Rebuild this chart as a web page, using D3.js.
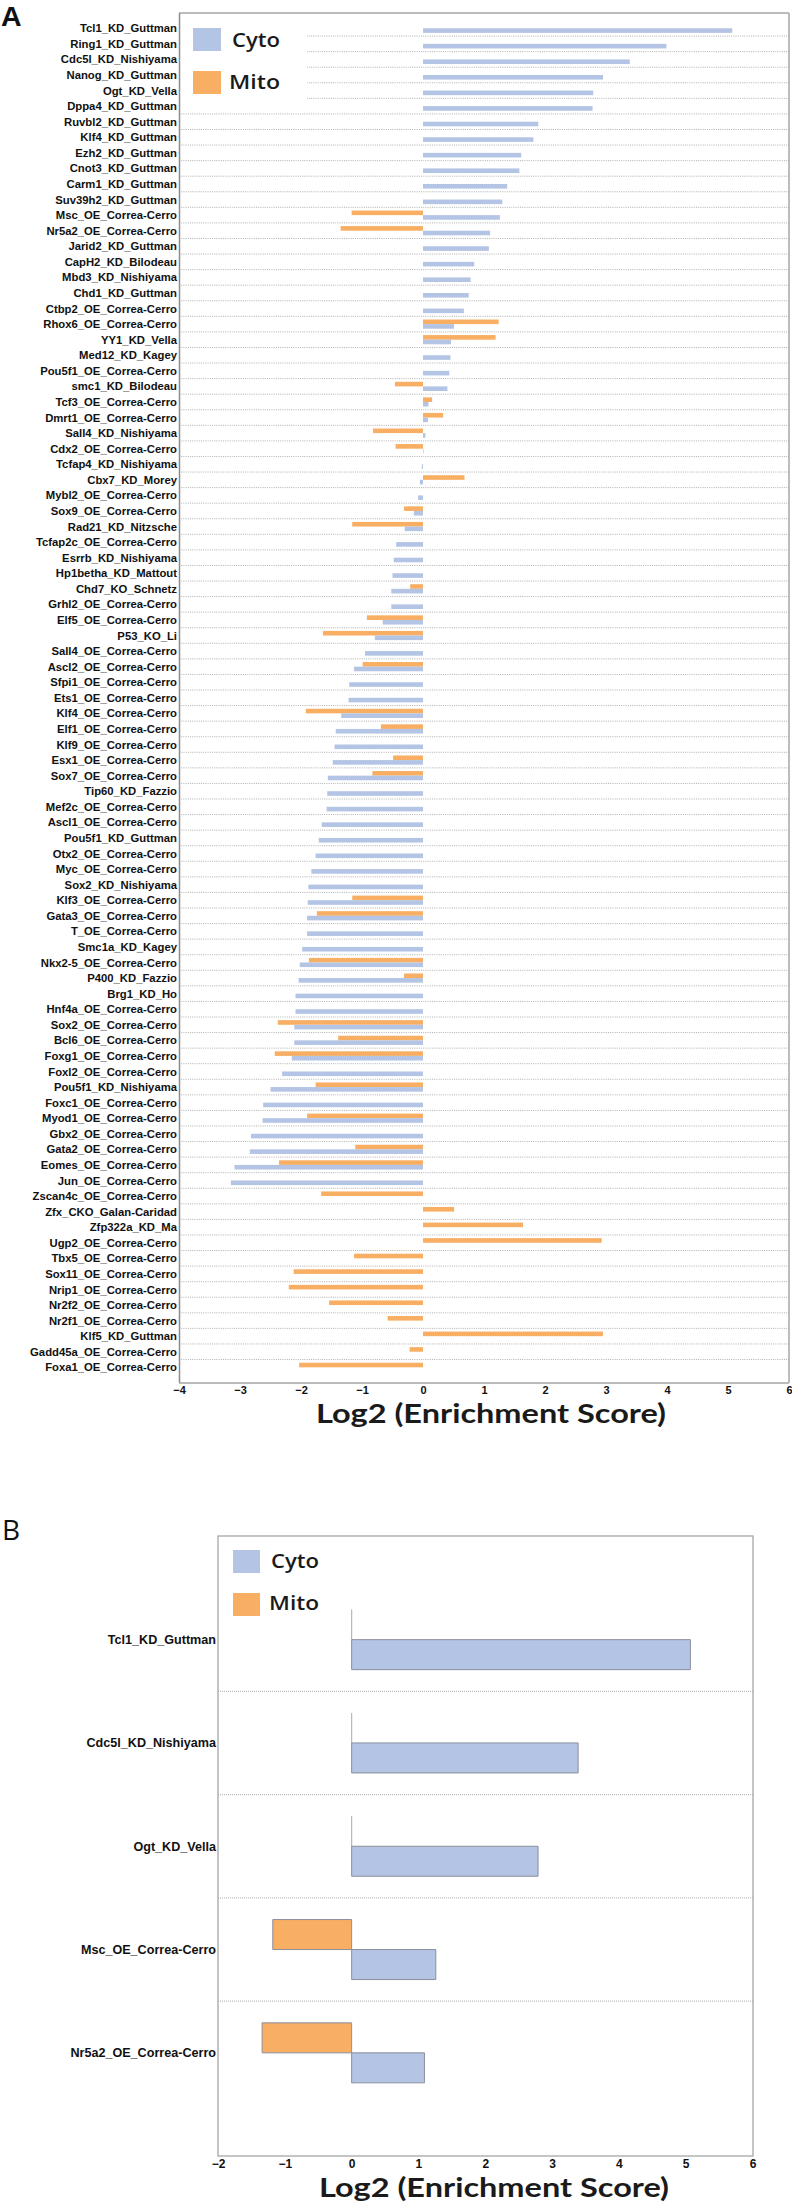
<!DOCTYPE html>
<html><head><meta charset="utf-8">
<script src="https://cdn.jsdelivr.net/npm/d3@7/dist/d3.min.js"></script>
<style>body{margin:0;background:#fff}</style>
</head><body>
<svg id="c" width="792" height="2203"></svg>
<script>
// ---------------- DATA ----------------
const categoriesA = ["Tcl1_KD_Guttman","Ring1_KD_Guttman","Cdc5l_KD_Nishiyama","Nanog_KD_Guttman","Ogt_KD_Vella","Dppa4_KD_Guttman","Ruvbl2_KD_Guttman","Klf4_KD_Guttman","Ezh2_KD_Guttman","Cnot3_KD_Guttman","Carm1_KD_Guttman","Suv39h2_KD_Guttman","Msc_OE_Correa-Cerro","Nr5a2_OE_Correa-Cerro","Jarid2_KD_Guttman","CapH2_KD_Bilodeau","Mbd3_KD_Nishiyama","Chd1_KD_Guttman","Ctbp2_OE_Correa-Cerro","Rhox6_OE_Correa-Cerro","YY1_KD_Vella","Med12_KD_Kagey","Pou5f1_OE_Correa-Cerro","smc1_KD_Bilodeau","Tcf3_OE_Correa-Cerro","Dmrt1_OE_Correa-Cerro","Sall4_KD_Nishiyama","Cdx2_OE_Correa-Cerro","Tcfap4_KD_Nishiyama","Cbx7_KD_Morey","Mybl2_OE_Correa-Cerro","Sox9_OE_Correa-Cerro","Rad21_KD_Nitzsche","Tcfap2c_OE_Correa-Cerro","Esrrb_KD_Nishiyama","Hp1betha_KD_Mattout","Chd7_KO_Schnetz","Grhl2_OE_Correa-Cerro","Elf5_OE_Correa-Cerro","P53_KO_Li","Sall4_OE_Correa-Cerro","Ascl2_OE_Correa-Cerro","Sfpi1_OE_Correa-Cerro","Ets1_OE_Correa-Cerro","Klf4_OE_Correa-Cerro","Elf1_OE_Correa-Cerro","Klf9_OE_Correa-Cerro","Esx1_OE_Correa-Cerro","Sox7_OE_Correa-Cerro","Tip60_KD_Fazzio","Mef2c_OE_Correa-Cerro","Ascl1_OE_Correa-Cerro","Pou5f1_KD_Guttman","Otx2_OE_Correa-Cerro","Myc_OE_Correa-Cerro","Sox2_KD_Nishiyama","Klf3_OE_Correa-Cerro","Gata3_OE_Correa-Cerro","T_OE_Correa-Cerro","Smc1a_KD_Kagey","Nkx2-5_OE_Correa-Cerro","P400_KD_Fazzio","Brg1_KD_Ho","Hnf4a_OE_Correa-Cerro","Sox2_OE_Correa-Cerro","Bcl6_OE_Correa-Cerro","Foxg1_OE_Correa-Cerro","Foxl2_OE_Correa-Cerro","Pou5f1_KD_Nishiyama","Foxc1_OE_Correa-Cerro","Myod1_OE_Correa-Cerro","Gbx2_OE_Correa-Cerro","Gata2_OE_Correa-Cerro","Eomes_OE_Correa-Cerro","Jun_OE_Correa-Cerro","Zscan4c_OE_Correa-Cerro","Zfx_CKO_Galan-Caridad","Zfp322a_KD_Ma","Ugp2_OE_Correa-Cerro","Tbx5_OE_Correa-Cerro","Sox11_OE_Correa-Cerro","Nrip1_OE_Correa-Cerro","Nr2f2_OE_Correa-Cerro","Nr2f1_OE_Correa-Cerro","Klf5_KD_Guttman","Gadd45a_OE_Correa-Cerro","Foxa1_OE_Correa-Cerro"];

const cytoA = [5.07,3.99,3.39,2.95,2.79,2.78,1.89,1.81,1.61,1.58,1.38,1.30,1.26,1.10,1.08,0.84,0.78,0.75,0.67,0.51,0.46,0.45,0.43,0.40,0.09,0.08,0.04,0.01,-0.02,-0.05,-0.08,-0.15,-0.30,-0.44,-0.48,-0.50,-0.52,-0.52,-0.66,-0.79,-0.95,-1.13,-1.21,-1.22,-1.34,-1.43,-1.45,-1.48,-1.56,-1.57,-1.58,-1.66,-1.71,-1.76,-1.83,-1.88,-1.89,-1.90,-1.90,-1.98,-2.02,-2.04,-2.09,-2.09,-2.11,-2.11,-2.15,-2.31,-2.50,-2.62,-2.63,-2.82,-2.84,-3.09,-3.15,null,null,null,null,null,null,null,null,null,null,null,null];

const mitoA = [null,null,null,null,null,null,null,null,null,null,null,null,-1.17,-1.35,null,null,null,null,null,1.24,1.19,null,null,-0.46,0.15,0.33,-0.82,-0.45,null,0.68,null,-0.31,-1.16,null,null,null,-0.21,null,-0.92,-1.64,null,-0.99,null,null,-1.92,-0.69,null,-0.49,-0.83,null,null,null,null,null,null,null,-1.16,-1.74,null,null,-1.87,-0.31,null,null,-2.38,-1.39,-2.43,null,-1.76,null,-1.90,null,-1.11,-2.36,null,-1.67,0.51,1.64,2.93,-1.13,-2.12,-2.20,-1.54,-0.58,2.95,-0.22,-2.03];

const ticksA = [-4,-3,-2,-1,0,1,2,3,4,5,6];

const categoriesB = ["Tcl1_KD_Guttman","Cdc5l_KD_Nishiyama","Ogt_KD_Vella","Msc_OE_Correa-Cerro","Nr5a2_OE_Correa-Cerro"];
const cytoB = [5.07,3.39,2.79,1.26,1.09];
const mitoB = [0,0,0,-1.18,-1.34];
const ticksB = [-2,-1,0,1,2,3,4,5,6];

const seriesNames = ["Cyto","Mito"];
const axisTitle = "Log2 (Enrichment Score)";

// ---------------- STYLE ----------------
const fill = {Cyto:"#b4c4e4", Mito:"#f8ae63"};
const labFont = "'Liberation Sans', Arial, sans-serif";
const narrowFont = "'Liberation Sans Narrow','Arial Narrow','Liberation Sans',Arial,sans-serif";
const legFont = "'Open Sans', Lato, sans-serif";
const titleFont = "Lato, 'Open Sans', sans-serif";

const svg = d3.select("#c");

// =============== PANEL A ===============
const A = {left:179, right:789, top:13, bottom:1383};
const xA = d3.scaleLinear().domain([-4,6]).range([A.left, A.right]);
const yA = d3.scaleBand().domain(categoriesA).range([20.5, 1375.1]);
const bwA = yA.bandwidth();
const subA = d3.scaleBand().domain(["Mito","Cyto"]).range([bwA/2-4.6, bwA/2+4.6]);

const gA = svg.append("g");
gA.append("g").selectAll("line").data(categoriesA.slice(0,-1)).join("line")
  .attr("x1", A.left).attr("x2", A.right)
  .attr("y1", d => yA(d)+bwA).attr("y2", d => yA(d)+bwA)
  .attr("stroke","#a8a8a8").attr("stroke-width",0.9).attr("stroke-dasharray","1,1.2");

gA.append("rect").attr("x",A.left+1).attr("y",A.top+1).attr("width",127).attr("height",91).attr("fill","#fff");

const barsA = [];
categoriesA.forEach((c,i) => {
  if (mitoA[i] !== null) barsA.push({c, s:"Mito", v:mitoA[i]});
  if (cytoA[i] !== null) barsA.push({c, s:"Cyto", v:cytoA[i]});
});
gA.append("g").selectAll("rect").data(barsA).join("rect")
  .attr("x", d => xA(Math.min(0,d.v)))
  .attr("width", d => Math.abs(xA(d.v)-xA(0)))
  .attr("y", d => yA(d.c)+subA(d.s))
  .attr("height", subA.bandwidth())
  .attr("fill", d => fill[d.s]);

gA.append("line").attr("x1",A.left).attr("x2",A.right).attr("y1",A.top).attr("y2",A.top).attr("stroke","#a6a6a6").attr("stroke-width",1.5);
gA.append("line").attr("x1",A.right).attr("x2",A.right).attr("y1",A.top).attr("y2",A.bottom).attr("stroke","#a6a6a6").attr("stroke-width",1.5);
gA.append("line").attr("x1",A.left+0.5).attr("x2",A.left+0.5).attr("y1",A.top).attr("y2",A.bottom).attr("stroke","#8c8c8c").attr("stroke-width",1.5);
gA.append("line").attr("x1",A.left).attr("x2",A.right).attr("y1",A.bottom).attr("y2",A.bottom).attr("stroke","#a6a6a6").attr("stroke-width",1.5);

gA.append("g").selectAll("text").data(categoriesA).join("text")
  .attr("x", 177).attr("y", d => yA(d)+bwA/2).attr("dy","0.36em")
  .attr("text-anchor","end").attr("font-family",labFont).attr("font-weight","bold")
  .attr("font-size",11.3).attr("fill","#111").text(d => d);

const axA = gA.append("g").attr("transform",`translate(0,${A.bottom})`)
  .call(d3.axisBottom(xA).tickValues(ticksA).tickSize(0).tickFormat(d3.format("d")));
axA.select(".domain").remove();
axA.selectAll("text").attr("y",7).attr("dy","0.36em").attr("font-family",narrowFont)
  .attr("font-weight","bold").attr("font-size",11).attr("fill","#111").style("font-stretch","condensed");

gA.append("text").attr("x",491).attr("y",1423).attr("text-anchor","middle")
  .attr("font-family",titleFont).attr("font-weight","bold").attr("font-size",26)
  .attr("textLength",350).attr("lengthAdjust","spacingAndGlyphs").attr("fill","#1a1a1a").text(axisTitle);

const legA = gA.append("g");
seriesNames.forEach((s,i) => {
  legA.append("rect").attr("x",193).attr("y",28+i*43).attr("width",28).attr("height",23).attr("fill",fill[s]);
  legA.append("text").attr("x", s==="Cyto"?232:229).attr("y",46.5+i*42).attr("font-family",legFont)
    .attr("font-weight",600).attr("font-size",20).attr("textLength", s==="Cyto"?48:51)
    .attr("lengthAdjust","spacingAndGlyphs").attr("fill","#1a1a1a").text(s);
});

svg.append("text").attr("x",1).attr("y",26).attr("font-family",labFont).attr("font-weight","bold")
  .attr("font-size",28.5).attr("fill","#111").text("A");

// =============== PANEL B ===============
const B = {left:218, right:753, top:1536, bottom:2156};
const xB = d3.scaleLinear().domain([-2,6]).range([B.left, 752.5]);
const yB = d3.scaleBand().domain(categoriesB).range([1588, 2104.5]);
const bwB = yB.bandwidth();
const subB = d3.scaleBand().domain(["Mito","Cyto"]).range([bwB/2-30, bwB/2+30]);

const gB = svg.append("g");
gB.append("g").selectAll("line").data(categoriesB.slice(0,-1)).join("line")
  .attr("x1", B.left).attr("x2", B.right)
  .attr("y1", d => yB(d)+bwB).attr("y2", d => yB(d)+bwB)
  .attr("stroke","#bdbdbd").attr("stroke-width",1.2).attr("stroke-dasharray","1,1");

const barsB = [];
categoriesB.forEach((c,i) => {
  barsB.push({c, s:"Mito", v:mitoB[i]});
  barsB.push({c, s:"Cyto", v:cytoB[i]});
});
gB.append("g").selectAll("path").data(barsB).join("path")
  .attr("d", d => {
    const x0 = xB(0), x1 = xB(d.v), y0 = yB(d.c)+subB(d.s), y1 = y0+subB.bandwidth();
    return `M${x0},${y0}H${x1}V${y1}H${x0}Z`;
  })
  .attr("fill", d => fill[d.s])
  .attr("stroke", d => d.v === 0 ? "#b8b8b8" : "#8a8f9c").attr("stroke-width",1);

gB.append("rect").attr("x",B.left).attr("y",B.top).attr("width",B.right-B.left).attr("height",B.bottom-B.top)
  .attr("fill","none").attr("stroke","#a6a6a6").attr("stroke-width",1.3);

seriesNames.forEach((s,i) => {
  gB.append("rect").attr("x",233).attr("y",1550+i*43).attr("width",27).attr("height",23).attr("fill",fill[s]);
  gB.append("text").attr("x", s==="Cyto"?271:269).attr("y",1568+i*42).attr("font-family",legFont)
    .attr("font-weight",600).attr("font-size",20).attr("textLength", s==="Cyto"?48:50)
    .attr("lengthAdjust","spacingAndGlyphs").attr("fill","#1a1a1a").text(s);
});

gB.append("g").selectAll("text").data(categoriesB).join("text")
  .attr("x", 216).attr("y", d => yB(d)+bwB/2).attr("dy","0.36em")
  .attr("text-anchor","end").attr("font-family",labFont).attr("font-weight","bold")
  .attr("font-size",12.6).attr("fill","#111").text(d => d);

const axB = gB.append("g").attr("transform",`translate(0,${B.bottom})`)
  .call(d3.axisBottom(xB).tickValues(ticksB).tickSize(0).tickFormat(d3.format("d")));
axB.select(".domain").remove();
axB.selectAll("text").attr("y",8).attr("dy","0.36em").attr("font-family",narrowFont)
  .attr("font-weight","bold").attr("font-size",12).attr("fill","#111").style("font-stretch","condensed");

gB.append("text").attr("x",494).attr("y",2197).attr("text-anchor","middle")
  .attr("font-family",titleFont).attr("font-weight","bold").attr("font-size",26)
  .attr("textLength",350).attr("lengthAdjust","spacingAndGlyphs").attr("fill","#1a1a1a").text(axisTitle);

svg.append("text").attr("x",2).attr("y",1540).attr("font-family",legFont).attr("font-weight",400)
  .attr("font-size",28).attr("fill","#111").text("B");
</script>
</body></html>
